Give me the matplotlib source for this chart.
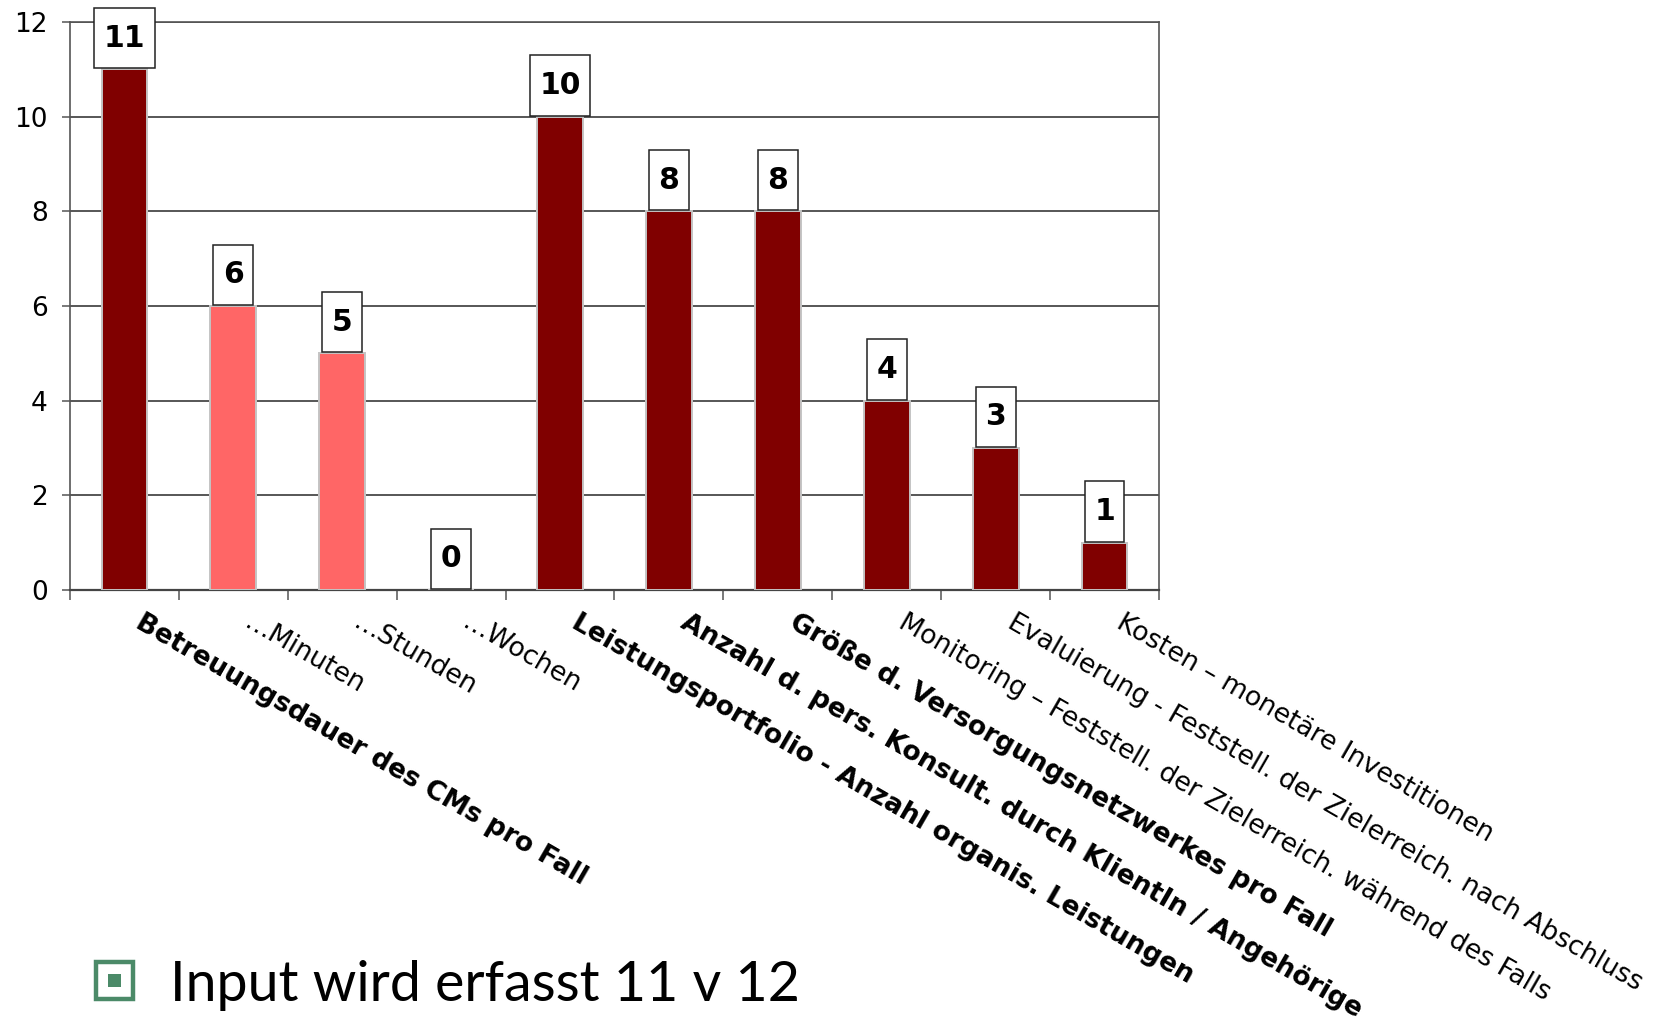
import matplotlib
matplotlib.use("Agg")
import matplotlib.pyplot as plt
import matplotlib.transforms as mtransforms
from matplotlib.patches import Rectangle
from matplotlib.path import Path

# Chart data
categories = [
    "Betreuungsdauer des CMs pro Fall",
    "…Minuten",
    "…Stunden",
    "…Wochen",
    "Leistungsportfolio - Anzahl organis. Leistungen",
    "Anzahl d. pers. Konsult. durch KlientIn / Angehörige",
    "Größe d. Versorgungsnetzwerkes pro Fall",
    "Monitoring – Feststell. der Zielerreich. während des Falls",
    "Evaluierung - Feststell. der Zielerreich. nach Abschluss",
    "Kosten – monetäre Investitionen",
]
values = [11, 6, 5, 0, 10, 8, 8, 4, 3, 1]
is_sub_item = [False, True, True, True, False, False, False, False, False, False]
bold_label = [True, False, False, False, True, True, True, False, False, False]
y_ticks = [0, 2, 4, 6, 8, 10, 12]
bullet_text = "Input wird erfasst 11 v 12"

DARK = "#800000"
LIGHT = "#FF6666"
GRID = "#3a3a3a"

W, H = 1666, 1021
fig = plt.figure(figsize=(W / 100, H / 100), dpi=100)
fig.patch.set_facecolor("white")

ax = fig.add_axes([70 / W, 1 - 590 / H, (1159 - 70) / W, (590 - 22) / H])

x = list(range(len(categories)))
colors = [LIGHT if s else DARK for s in is_sub_item]
ax.bar(x, values, width=0.42, color=colors, edgecolor="#c4c4c4",
       linewidth=1.4, zorder=3)

ax.set_xlim(-0.5, len(categories) - 0.5)
ax.set_ylim(0, 12)
ax.set_yticks(y_ticks)
ax.set_yticklabels([str(t) for t in y_ticks])
ax.yaxis.grid(True, color=GRID, linewidth=1.2, zorder=0)
ax.set_axisbelow(True)

for side in ["left", "right", "top", "bottom"]:
    ax.spines[side].set_color("#555555")
    ax.spines[side].set_linewidth(1.2)
ax.spines["bottom"].set_color("#444444")
ax.spines["bottom"].set_linewidth(1.6)

ax.tick_params(axis="y", direction="out", length=6, width=1.1,
               color="#555555", labelsize=19, pad=10)

# boundary ticks (major) without labels, category labels on minor ticks
ax.set_xticks([i - 0.5 for i in range(len(categories) + 1)])
ax.set_xticklabels([])
ax.tick_params(axis="x", which="major", direction="out", length=7,
               width=1.1, color="#555555")
ax.set_xticks(x, minor=True)
ax.set_xticklabels(categories, minor=True)
ax.tick_params(axis="x", which="minor", length=0, pad=14)

offset = mtransforms.ScaledTranslation(20 / 100, 0, fig.dpi_scale_trans)
for lbl, b in zip(ax.get_xticklabels(minor=True), bold_label):
    lbl.set_rotation(-30)
    lbl.set_rotation_mode("anchor")
    lbl.set_ha("left")
    lbl.set_va("top")
    lbl.set_fontsize(19.2)
    lbl.set_fontweight("bold" if b else "normal")
    lbl.set_transform(lbl.get_transform() + offset)


def tall_box(x0, y0, width, height, mutation_size):
    """Rectangular frame with more padding above/below than at the sides."""
    px = 0.32 * mutation_size
    py = 0.52 * mutation_size
    x0, y0 = x0 - px, y0 - py
    x1, y1 = x0 + width + 2 * px, y0 + height + 2 * py
    return Path([(x0, y0), (x1, y0), (x1, y1), (x0, y1), (x0, y0)],
                closed=True)


# value boxes above the bars
for xi, v in zip(x, values):
    ax.annotate(str(v), xy=(xi, v), xytext=(0, 12.0),
                textcoords="offset points", ha="center", va="bottom",
                fontsize=21.5, fontweight="bold", color="black",
                bbox=dict(boxstyle=tall_box, fc="white",
                          ec="#222222", lw=1.1),
                zorder=5)

# bullet line below the chart
bx0, by0, bs = 96, 962, 37
fig.patches.append(Rectangle((bx0 / W, 1 - (by0 + bs) / H), bs / W, bs / H,
                             transform=fig.transFigure, fill=False,
                             edgecolor="#4b8a68", linewidth=3.2))
inner = 13
fig.patches.append(Rectangle(((bx0 + (bs - inner) / 2) / W,
                              1 - (by0 + (bs + inner) / 2) / H),
                             inner / W, inner / H,
                             transform=fig.transFigure, fill=True,
                             facecolor="#4b8a68", edgecolor="none"))
fig.text(170 / W, 1 - 1001 / H, bullet_text, fontsize=40,
         family=["Lato", "DejaVu Sans"], fontweight="normal",
         ha="left", va="baseline", color="black")

fig.savefig("out.png", dpi=100, facecolor="white")
